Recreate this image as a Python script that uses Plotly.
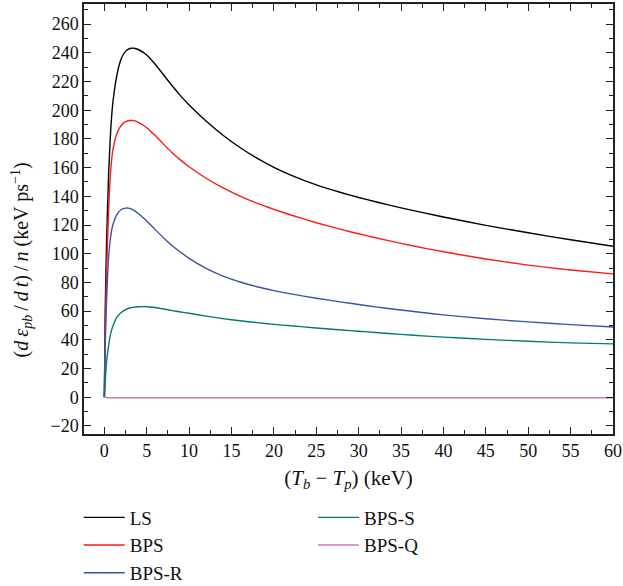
import plotly.graph_objects as go

x = [0, 0.1, 0.25, 0.5, 0.75, 1, 1.5, 2, 2.5, 3, 3.5, 4, 5, 6, 7, 8, 9, 10, 12, 14, 16, 18,
     20, 22, 25, 28, 30, 32, 35, 38, 40, 45, 50, 55, 60]

ls = [0, 60, 105, 155, 186, 205, 225, 236, 241, 243, 243.2, 242.3, 238.5, 232, 224.5, 217, 210,
      203.7, 192.5, 182.6, 174, 166.6, 160.2, 154.8, 148, 142.5, 139.2, 136.2, 132, 128.1,
      125.6, 119.8, 114.6, 109.7, 105.2]
bps = [0, 45, 85, 130, 158, 172, 184, 189.5, 192, 192.8, 192.7, 191.5, 187.8, 182.3, 176.2,
       170.4, 165.2, 160.6, 152.6, 145.9, 140.2, 135.2, 130.9, 127, 121.6, 116.8, 113.9, 111.1,
       107.2, 103.6, 101.4, 96.3, 92.1, 88.7, 86]
bps_r = [0, 35, 65, 97, 112, 120, 127.5, 130.8, 131.8, 131.6, 130.2, 128, 122.8, 116.8, 111,
         105.6, 101, 96.8, 89.8, 84.4, 80.3, 77, 74.3, 72, 69, 66.3, 64.6, 63, 60.8, 58.7, 57.4,
         54.7, 52.5, 50.6, 49]
bps_s = [0, 10, 24, 36, 44.5, 49.5, 56, 59, 61, 62.2, 62.8, 63.1, 63.1, 62.5, 61.5, 60.4, 59.4,
         58.5, 56.5, 54.8, 53.3, 52, 50.8, 49.8, 48.3, 46.9, 46, 45.1, 43.8, 42.6, 41.9, 40.3,
         39, 37.9, 37.2]
bps_q = [0, -0.1, -0.2, -0.3, -0.3, -0.3, -0.3, -0.3, -0.3, -0.3, -0.3, -0.3, -0.3, -0.3, -0.3,
         -0.3, -0.3, -0.3, -0.3, -0.3, -0.3, -0.3, -0.3, -0.3, -0.3, -0.3, -0.3, -0.3, -0.3,
         -0.3, -0.3, -0.3, -0.3, -0.3, -0.3]

series = [
    ("LS", ls, "#000000", "legend"),
    ("BPS", bps, "#ff1a1a", "legend"),
    ("BPS-R", bps_r, "#3a53a8", "legend"),
    ("BPS-S", bps_s, "#007a72", "legend2"),
    ("BPS-Q", bps_q, "#c67bbb", "legend2"),
]

font = "Liberation Serif, Times New Roman, serif"
ts = "\u2009"
y_title = ("(<i>d</i>" + ts + "<i>ε</i><sub><i>pb</i></sub>" + ts + "/" + ts + "<i>d</i>" + ts
           + "<i>t</i>)" + ts + "/" + ts + "<i>n</i> (keV ps<sup>−1</sup>)")

fig = go.Figure()
for name, ys, color, lg in series:
    fig.add_trace(go.Scatter(x=x, y=ys, mode="lines", name=name,
                             line=dict(color=color, width=1.4, shape="spline", smoothing=0.5),
                             legend=lg))

axis_common = dict(
    showline=True, linecolor="#222", linewidth=1.5, mirror="allticks",
    ticks="inside", ticklen=7, tickwidth=1.2, tickcolor="#222",
    showgrid=False, zeroline=False,
    tickfont=dict(family=font, size=18, color="#111"),
)

fig.update_xaxes(
    range=[-2.4, 60], tickmode="linear", tick0=0, dtick=5,
    minor=dict(ticks="inside", dtick=2.5, ticklen=4, tickcolor="#222", tickwidth=1),
    title=dict(text="(<i>T</i><sub><i>b</i></sub> − <i>T</i><sub><i>p</i></sub>) (keV)",
               font=dict(family=font, size=21, color="#111"), standoff=10),
    **axis_common,
)
fig.update_yaxes(
    range=[-25.6, 274], tickmode="linear", tick0=0, dtick=20,
    minor=dict(ticks="inside", dtick=10, ticklen=4, tickcolor="#222", tickwidth=1),
    **axis_common,
)

fig.add_annotation(
    text=y_title, textangle=-90, xref="paper", yref="paper",
    x=-0.117, y=0.404, xanchor="center", yanchor="middle", showarrow=False,
    font=dict(family=font, size=20, color="#111"),
)

legend_common = dict(
    orientation="v", yanchor="top", xanchor="left", y=-0.15,
    font=dict(family=font, size=19, color="#111"),
    bgcolor="rgba(0,0,0,0)", borderwidth=0, itemwidth=41,
    tracegroupgap=0,
)

fig.update_layout(
    width=623, height=586,
    margin=dict(l=84, r=10, t=4, b=152, autoexpand=False),
    paper_bgcolor="white", plot_bgcolor="white",
    showlegend=True,
    legend=dict(x=-0.01, **legend_common),
    legend2=dict(x=0.433, **legend_common),
)

fig.write_html("out.html", config={"displayModeBar": False},
               post_script="document.body.style.margin='0';")
